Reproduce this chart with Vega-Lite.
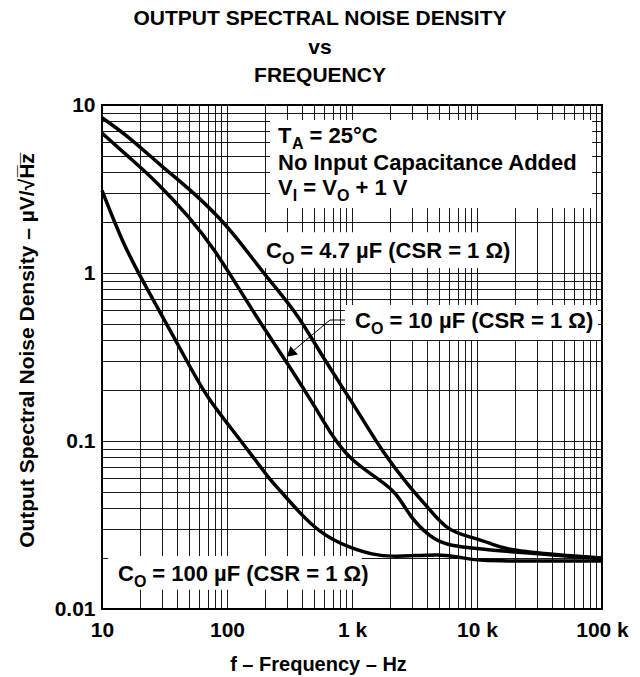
{
  "$schema": "https://vega.github.io/schema/vega-lite/v6.json",
  "width": 500,
  "height": 504,
  "autosize": {"type": "none"},
  "padding": {"left": 102, "top": 105, "right": 38, "bottom": 68},
  "background": "white",
  "config": {
    "view": {"stroke": "#000", "strokeWidth": 2},
    "text": {"font": "Liberation Sans", "fontWeight": "bold", "fontSize": 22, "align": "left", "baseline": "alphabetic", "color": "#000"}
  },
  "title": {
    "text": ["OUTPUT SPECTRAL NOISE DENSITY", "vs", "FREQUENCY"],
    "font": "Liberation Sans", "fontSize": 21, "fontWeight": "bold", "color": "#000",
    "lineHeight": 28.5, "anchor": "middle", "frame": "group", "dx": -32, "offset": 8
  },
  "data": {
    "values": [
      {"c": "4.7", "f": 10, "v": 8.4},
      {"c": "4.7", "f": 16.7, "v": 6.4},
      {"c": "4.7", "f": 29, "v": 4.4},
      {"c": "4.7", "f": 61, "v": 2.8},
      {"c": "4.7", "f": 112, "v": 1.75},
      {"c": "4.7", "f": 194, "v": 1.0},
      {"c": "4.7", "f": 363, "v": 0.58},
      {"c": "4.7", "f": 555, "v": 0.334},
      {"c": "4.7", "f": 1100, "v": 0.153},
      {"c": "4.7", "f": 1770, "v": 0.085},
      {"c": "4.7", "f": 2900, "v": 0.053},
      {"c": "4.7", "f": 4200, "v": 0.039},
      {"c": "4.7", "f": 5750, "v": 0.0295},
      {"c": "4.7", "f": 8800, "v": 0.0268},
      {"c": "4.7", "f": 12700, "v": 0.0247},
      {"c": "4.7", "f": 17400, "v": 0.0224},
      {"c": "4.7", "f": 46000, "v": 0.0209},
      {"c": "4.7", "f": 100000, "v": 0.0201},
      {"c": "10", "f": 10, "v": 6.8},
      {"c": "10", "f": 16.7, "v": 4.84},
      {"c": "10", "f": 27.5, "v": 3.48},
      {"c": "10", "f": 50.6, "v": 2.13},
      {"c": "10", "f": 80, "v": 1.37},
      {"c": "10", "f": 127, "v": 0.79},
      {"c": "10", "f": 194, "v": 0.477},
      {"c": "10", "f": 319, "v": 0.276},
      {"c": "10", "f": 525, "v": 0.153},
      {"c": "10", "f": 667, "v": 0.112},
      {"c": "10", "f": 964, "v": 0.077},
      {"c": "10", "f": 1675, "v": 0.0586},
      {"c": "10", "f": 2290, "v": 0.049},
      {"c": "10", "f": 2910, "v": 0.0353},
      {"c": "10", "f": 4200, "v": 0.0268},
      {"c": "10", "f": 5750, "v": 0.024},
      {"c": "10", "f": 8800, "v": 0.0231},
      {"c": "10", "f": 12700, "v": 0.0224},
      {"c": "10", "f": 26500, "v": 0.0215},
      {"c": "10", "f": 100000, "v": 0.0199},
      {"c": "100", "f": 10, "v": 3.1},
      {"c": "100", "f": 14.7, "v": 1.5},
      {"c": "100", "f": 20.9, "v": 0.91},
      {"c": "100", "f": 35, "v": 0.458},
      {"c": "100", "f": 50.6, "v": 0.276},
      {"c": "100", "f": 69, "v": 0.183},
      {"c": "100", "f": 106, "v": 0.121},
      {"c": "100", "f": 153, "v": 0.085},
      {"c": "100", "f": 221, "v": 0.0586},
      {"c": "100", "f": 265, "v": 0.051},
      {"c": "100", "f": 363, "v": 0.0388},
      {"c": "100", "f": 555, "v": 0.0283},
      {"c": "100", "f": 912, "v": 0.0234},
      {"c": "100", "f": 1675, "v": 0.0204},
      {"c": "100", "f": 2900, "v": 0.0207},
      {"c": "100", "f": 5060, "v": 0.0212},
      {"c": "100", "f": 7300, "v": 0.0204},
      {"c": "100", "f": 9640, "v": 0.0193},
      {"c": "100", "f": 31900, "v": 0.0193},
      {"c": "100", "f": 100000, "v": 0.0193}
    ]
  },
  "layer": [
    {
      "mark": {"type": "line", "stroke": "#000", "strokeWidth": 3.5, "strokeOpacity": 0, "interpolate": "basis"},
      "encoding": {
        "x": {
          "field": "f", "type": "quantitative",
          "scale": {"type": "log", "domain": [10, 100000]},
          "axis": {
            "title": "f – Frequency – Hz",
            "values": [10,20,30,40,50,60,70,80,90,100,200,300,400,500,600,700,800,900,1000,2000,3000,4000,5000,6000,7000,8000,9000,10000,20000,30000,40000,50000,60000,70000,80000,90000,100000],
            "labelExpr": "datum.value == 10 ? '10' : datum.value == 100 ? '100' : datum.value == 1000 ? '1 k' : datum.value == 10000 ? '10 k' : datum.value == 100000 ? '100 k' : ''",
            "grid": true, "gridColor": "#000", "gridWidth": 1, "gridOpacity": 0.9,
            "ticks": false, "tickSize": 0, "domain": false,
            "labelFont": "Liberation Sans", "labelFontSize": 21, "labelFontWeight": "bold", "labelColor": "#000",
            "labelPadding": 10, "labelFlush": false, "labelOverlap": false,
            "titleFont": "Liberation Sans", "titleFontSize": 20, "titleFontWeight": "bold", "titleColor": "#000",
            "titleX": 216, "titleY": 61, "titleAlign": "center", "titleBaseline": "alphabetic"
          }
        },
        "y": {
          "field": "v", "type": "quantitative",
          "scale": {"type": "log", "domain": [0.01, 10]},
          "axis": {
            "title": "Output Spectral Noise Density – µV/√H̅z̅",
            "values": [0.01,0.02,0.03,0.04,0.05,0.06,0.07,0.08,0.09,0.1,0.2,0.3,0.4,0.5,0.6,0.7,0.8,0.9,1,2,3,4,5,6,7,8,9,10],
            "labelExpr": "datum.value == 0.01 ? '0.01' : datum.value == 0.1 ? '0.1' : datum.value == 1 ? '1' : datum.value == 10 ? '10' : ''",
            "grid": true, "gridColor": "#000", "gridWidth": 1, "gridOpacity": 0.9,
            "ticks": false, "tickSize": 0, "domain": false,
            "labelFont": "Liberation Sans", "labelFontSize": 21, "labelFontWeight": "bold", "labelColor": "#000",
            "labelPadding": 7, "labelFlush": false, "labelOverlap": false,
            "titleFont": "Liberation Sans", "titleFontSize": 21, "titleFontWeight": "bold", "titleColor": "#000",
            "titleAngle": 270, "titleX": -75, "titleY": 245, "titleAlign": "center", "titleBaseline": "middle"
          }
        },
        "detail": {"field": "c"}
      }
    },
    {
      "data": {"values": [{}]},
      "mark": {"type": "rect", "fill": "white"},
      "encoding": {
        "x": {"datum": 221, "type": "quantitative"}, "x2": {"datum": 83200},
        "y": {"datum": 8.15, "type": "quantitative"}, "y2": {"datum": 2.44}
      }
    },
    {
      "data": {"values": [{}]},
      "mark": {"type": "rect", "fill": "white"},
      "encoding": {
        "x": {"datum": 177, "type": "quantitative"}, "x2": {"datum": 16700},
        "y": {"datum": 1.75, "type": "quantitative"}, "y2": {"datum": 1.07}
      }
    },
    {
      "data": {"values": [{}]},
      "mark": {"type": "rect", "fill": "white"},
      "encoding": {
        "x": {"datum": 879, "type": "quantitative"}, "x2": {"datum": 92900},
        "y": {"datum": 0.645, "type": "quantitative"}, "y2": {"datum": 0.399}
      }
    },
    {
      "data": {"values": [{}]},
      "mark": {"type": "rect", "fill": "white"},
      "encoding": {
        "x": {"datum": 11.2, "type": "quantitative"}, "x2": {"datum": 1202},
        "y": {"datum": 0.0207, "type": "quantitative"}, "y2": {"datum": 0.013}
      }
    },
    {
      "mark": {"type": "line", "stroke": "#000", "strokeWidth": 3.5, "interpolate": "basis"},
      "encoding": {
        "x": {"field": "f", "type": "quantitative"},
        "y": {"field": "v", "type": "quantitative"},
        "detail": {"field": "c"}
      }
    },
    {
      "data": {"values": [{}]},
      "mark": {"type": "rule", "stroke": "#000", "strokeWidth": 1},
      "encoding": {
        "x": {"datum": 879, "type": "quantitative"}, "x2": {"datum": 667},
        "y": {"datum": 0.525, "type": "quantitative"}, "y2": {"datum": 0.525}
      }
    },
    {
      "data": {"values": [{}]},
      "mark": {"type": "rule", "stroke": "#000", "strokeWidth": 1},
      "encoding": {
        "x": {"datum": 667, "type": "quantitative"}, "x2": {"datum": 335},
        "y": {"datum": 0.525, "type": "quantitative"}, "y2": {"datum": 0.342}
      }
    },
    {
      "data": {"values": [{}]},
      "mark": {"type": "point", "shape": "triangle-up", "filled": true, "fill": "#000", "opacity": 1, "size": 130, "angle": 228.5},
      "encoding": {
        "x": {"datum": 322, "type": "quantitative"},
        "y": {"datum": 0.332, "type": "quantitative"}
      }
    },
    {
      "data": {"values": [{}]},
      "encoding": {
        "x": {"datum": 256, "type": "quantitative"},
        "y": {"datum": 5.94, "type": "quantitative"}
      },
      "layer": [
        {"mark": {"type": "text", "text": "T"}},
        {"mark": {"type": "text", "text": "A", "fontSize": 16, "dx": 14, "dy": 6}},
        {"mark": {"type": "text", "text": "= 25°C", "dx": 31.5}}
      ]
    },
    {
      "data": {"values": [{}]},
      "mark": {"type": "text", "text": "No Input Capacitance Added"},
      "encoding": {
        "x": {"datum": 256, "type": "quantitative"},
        "y": {"datum": 4.1, "type": "quantitative"}
      }
    },
    {
      "data": {"values": [{}]},
      "encoding": {
        "x": {"datum": 256, "type": "quantitative"},
        "y": {"datum": 2.91, "type": "quantitative"}
      },
      "layer": [
        {"mark": {"type": "text", "text": "V"}},
        {"mark": {"type": "text", "text": "I", "fontSize": 16, "dx": 14.7, "dy": 6}},
        {"mark": {"type": "text", "text": "= V", "dx": 25.2}},
        {"mark": {"type": "text", "text": "O", "fontSize": 16, "dx": 59, "dy": 6}},
        {"mark": {"type": "text", "text": "+ 1 V", "dx": 77.4}}
      ]
    },
    {
      "data": {"values": [{}]},
      "encoding": {
        "x": {"datum": 205, "type": "quantitative"},
        "y": {"datum": 1.23, "type": "quantitative"}
      },
      "layer": [
        {"mark": {"type": "text", "text": "C"}},
        {"mark": {"type": "text", "text": "O", "fontSize": 16, "dx": 16, "dy": 6}},
        {"mark": {"type": "text", "text": "= 4.7 µF (CSR = 1 Ω)", "dx": 34.4}}
      ]
    },
    {
      "data": {"values": [{}]},
      "encoding": {
        "x": {"datum": 1057, "type": "quantitative"},
        "y": {"datum": 0.471, "type": "quantitative"}
      },
      "layer": [
        {"mark": {"type": "text", "text": "C"}},
        {"mark": {"type": "text", "text": "O", "fontSize": 16, "dx": 16, "dy": 6}},
        {"mark": {"type": "text", "text": "= 10 µF (CSR = 1 Ω)", "dx": 34.4}}
      ]
    },
    {
      "data": {"values": [{}]},
      "encoding": {
        "x": {"datum": 13.4, "type": "quantitative"},
        "y": {"datum": 0.0147, "type": "quantitative"}
      },
      "layer": [
        {"mark": {"type": "text", "text": "C"}},
        {"mark": {"type": "text", "text": "O", "fontSize": 16, "dx": 16, "dy": 6}},
        {"mark": {"type": "text", "text": "= 100 µF (CSR = 1 Ω)", "dx": 34.4}}
      ]
    }
  ]
}
